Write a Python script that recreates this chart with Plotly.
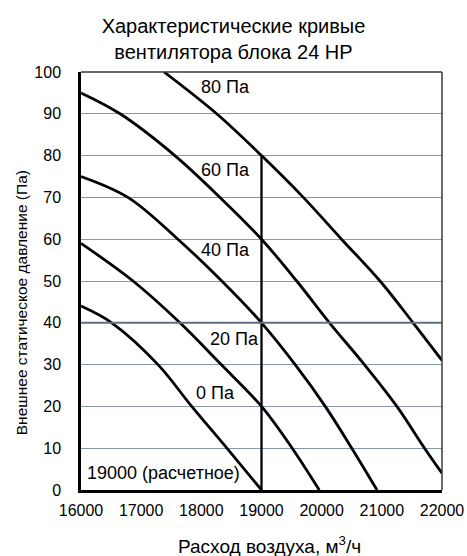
import plotly.graph_objects as go

# Fan curves: airflow (m3/h) vs external static pressure (Pa)
c0_x = [16000, 16510, 17280, 17840, 18425, 19000]
c0_y = [44, 40, 30, 20, 10, 0]
c20_x = [16000, 16865, 17645, 18330, 19000, 19510, 19960]
c20_y = [59, 50, 40, 30, 20, 10, 0]
c40_x = [16000, 16780, 17610, 18340, 19000, 19560, 20060, 20500, 20920]
c40_y = [75, 70, 60, 50, 40, 30, 20, 10, 0]
c60_x = [16000, 16650, 17560, 18310, 19000, 19585, 20130, 20710, 21250, 21710, 22000]
c60_y = [95, 90, 80, 70, 60, 50, 40, 30, 20, 10, 4]
c80_x = [17380, 18255, 19000, 19695, 20330, 20970, 21520, 22000]
c80_y = [100, 90, 80, 70, 60, 50, 40, 31]

design_x = [19000, 19000]
design_y = [0, 80]

label_text = ["80 Па", "60 Па", "40 Па", "20 Па", "0 Па", "19000 (расчетное)"]
label_x = [18400, 18400, 18400, 18550, 18235, 17370]
label_y = [96.4, 76.5, 57.4, 36.1, 23.2, 4]

x_ticks = [16000, 17000, 18000, 19000, 20000, 21000, 22000]
y_ticks = [0, 10, 20, 30, 40, 50, 60, 70, 80, 90, 100]

FONT = "Liberation Sans, Arial"

fig = go.Figure()
for xs, ys in [(c0_x, c0_y), (c20_x, c20_y), (c40_x, c40_y), (c60_x, c60_y), (c80_x, c80_y)]:
    fig.add_trace(go.Scatter(x=xs, y=ys, mode="lines",
                             line=dict(color="black", width=2.8, shape="spline", smoothing=1.0),
                             showlegend=False, hoverinfo="skip", cliponaxis=True))

fig.add_trace(go.Scatter(x=design_x, y=design_y, mode="lines", line=dict(color="black", width=2.3),
                         showlegend=False, hoverinfo="skip"))

# emphasised 40 Pa line
fig.add_trace(go.Scatter(x=[16000, 22000], y=[40, 40], mode="lines", line=dict(color="#5f6f85", width=2),
                         showlegend=False, hoverinfo="skip"))

for t, x, y in zip(label_text, label_x, label_y):
    fig.add_annotation(x=x, y=y, text=t, showarrow=False, xanchor="center", yanchor="middle",
                       font=dict(family=FONT, size=18, color="black"))

# axis titles
fig.add_annotation(x=0.5235, y=-0.1316, xref="paper", yref="paper", showarrow=False,
                   text="Расход воздуха, м<sup>3</sup>/ч", xanchor="center", yanchor="middle",
                   font=dict(family=FONT, size=19, color="black"))
fig.add_annotation(x=-0.166, y=0.447, xref="paper", yref="paper", showarrow=False, textangle=-90,
                   text="Внешнее статическое давление (Па)", xanchor="center", yanchor="middle",
                   font=dict(family=FONT, size=15.5, color="black"))

fig.update_layout(
    width=467, height=556,
    margin=dict(l=81, r=25, t=72, b=66, autoexpand=False),
    paper_bgcolor="white", plot_bgcolor="white",
    title=dict(text="Характеристические кривые<br>вентилятора блока 24 HP", x=0.5, xanchor="center",
               xref="container", yref="container", y=0.94, yanchor="top", automargin=False,
               font=dict(family=FONT, size=20, color="black")),
    font=dict(family=FONT, size=16, color="black"),
)
fig.update_xaxes(range=[16000, 22000], tickvals=x_ticks, ticktext=[str(v) for v in x_ticks],
                 showgrid=False, zeroline=False, showline=True, linecolor="black", linewidth=2.5,
                 ticks="", ticklabelstandoff=4, automargin=False, tickfont=dict(size=16))
fig.update_yaxes(range=[0, 100], tickvals=y_ticks, showgrid=True, gridcolor="#8797ad", gridwidth=1.2,
                 zeroline=False, showline=True, linecolor="black", linewidth=2.5, ticks="",
                 ticklabelstandoff=14, automargin=False, tickfont=dict(size=16))
# top and right border
fig.add_shape(type="line", xref="paper", yref="paper", x0=0, x1=1, y0=1, y1=1, line=dict(color="#3a3a3a", width=1.5))
fig.add_shape(type="line", xref="paper", yref="paper", x0=1, x1=1, y0=0, y1=1, line=dict(color="#3a3a3a", width=1.5))

fig.write_html("out.html", config={"displayModeBar": False},
               post_script="document.body.style.margin='0';document.body.style.padding='0';")
